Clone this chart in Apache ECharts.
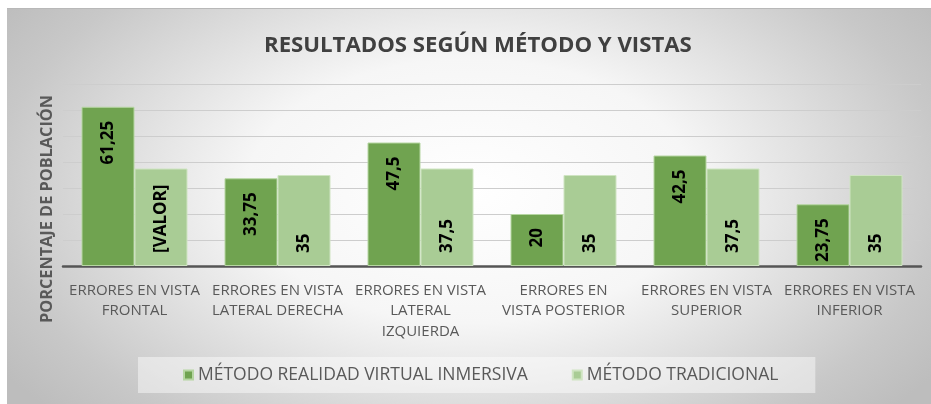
<!DOCTYPE html>
<html>
<head>
<meta charset="utf-8">
<script src="https://cdn.jsdelivr.net/npm/echarts@6/dist/echarts.min.js"></script>
<style>
  html, body { margin: 0; padding: 0; background: #fff; }
  #bg {
    position: absolute; left: 7px; top: 8px; width: 924px; height: 396px;
    background: radial-gradient(ellipse 560px 330px at 463px 182px, #ffffff 0%, #f6f6f6 40%, #c8c8c8 85%, #bdbdbd 100%);
    border-top: 1px solid #b8b8b8;
  }
  #chart { position: absolute; left: 0; top: 0; width: 931px; height: 404px; }
</style>
</head>
<body>
<div id="bg"></div>
<div id="chart"></div>
<script>
// data
var categories = [
    'ERRORES EN VISTA\nFRONTAL',
    'ERRORES EN VISTA\nLATERAL DERECHA',
    'ERRORES EN VISTA\nLATERAL\nIZQUIERDA',
    'ERRORES EN\nVISTA POSTERIOR',
    'ERRORES EN VISTA\nSUPERIOR',
    'ERRORES EN VISTA\nINFERIOR'
];
var inmersiva = [61.25, 33.75, 47.5, 20, 42.5, 23.75];
var tradicional = [37.5, 35, 37.5, 35, 37.5, 35];
var tradicionalLabels = ['[VALOR]', null, null, null, null, null];
var seriesNames = ['MÉTODO REALIDAD VIRTUAL INMERSIVA', 'MÉTODO TRADICIONAL'];

var font = '"Open Sans", "Noto Sans", sans-serif';

function comma(v) {
    return String(v).replace('.', ',');
}

var chart = echarts.init(document.getElementById('chart'));
var option = {
    backgroundColor: 'transparent',
    textStyle: { fontFamily: font },
    title: {
        text: 'RESULTADOS SEGÚN MÉTODO Y VISTAS',
        left: 259,
        top: 30,
        textStyle: { fontFamily: font, fontSize: 22.2, fontWeight: 'bold', color: '#404040' }
    },
    legend: {
        data: seriesNames,
        left: 138,
        top: 357,
        padding: [9, 37, 9, 45],
        itemGap: 44,
        itemWidth: 9,
        itemHeight: 9,
        icon: 'rect',
        backgroundColor: 'rgba(255,255,255,0.45)',
        textStyle: { fontFamily: font, fontSize: 17.5, color: '#595959' }
    },
    graphic: [{
        type: 'text',
        x: 47,
        y: 209,
        rotation: Math.PI / 2,
        style: {
            text: 'PORCENTAJE DE POBLACIÓN',
            font: 'bold 16.3px ' + font,
            fill: '#595959',
            textAlign: 'center',
            textVerticalAlign: 'middle'
        }
    }],
    grid: { left: 63, right: 10, top: 84, bottom: 138 },
    xAxis: {
        type: 'category',
        data: categories,
        axisLine: { lineStyle: { color: '#555', width: 2.5 } },
        axisTick: { show: false },
        axisLabel: {
            interval: 0,
            margin: 14,
            fontFamily: font,
            fontSize: 15,
            lineHeight: 20.5,
            color: '#595959'
        }
    },
    yAxis: {
        type: 'value',
        min: 0,
        max: 70,
        interval: 10,
        axisLabel: { show: false },
        axisLine: { show: false },
        axisTick: { show: false },
        splitLine: { lineStyle: { color: '#cdcdcd', width: 1 } }
    },
    series: [{
        name: seriesNames[0],
        type: 'bar',
        data: inmersiva,
        barWidth: 53,
        barGap: '0%',
        itemStyle: { color: '#70a350', borderColor: '#b6d6a2', borderWidth: 1 },
        label: {
            show: true,
            position: 'insideTop',
            rotate: 90,
            align: 'right',
            verticalAlign: 'middle',
            distance: 14,
            fontFamily: font,
            fontSize: 17,
            fontWeight: 'bold',
            color: '#000',
            formatter: function (p) { return comma(p.value); }
        }
    }, {
        name: seriesNames[1],
        type: 'bar',
        data: tradicional,
        barWidth: 53,
        barGap: '0%',
        itemStyle: { color: '#a9cc95', borderColor: '#cfe4c2', borderWidth: 1 },
        label: {
            show: true,
            position: 'insideBottom',
            rotate: 90,
            align: 'left',
            verticalAlign: 'middle',
            distance: 13,
            fontFamily: font,
            fontSize: 17,
            fontWeight: 'bold',
            color: '#000',
            formatter: function (p) {
                return tradicionalLabels[p.dataIndex] || comma(p.value);
            }
        }
    }]
};
chart.setOption(option);
</script>
</body>
</html>
